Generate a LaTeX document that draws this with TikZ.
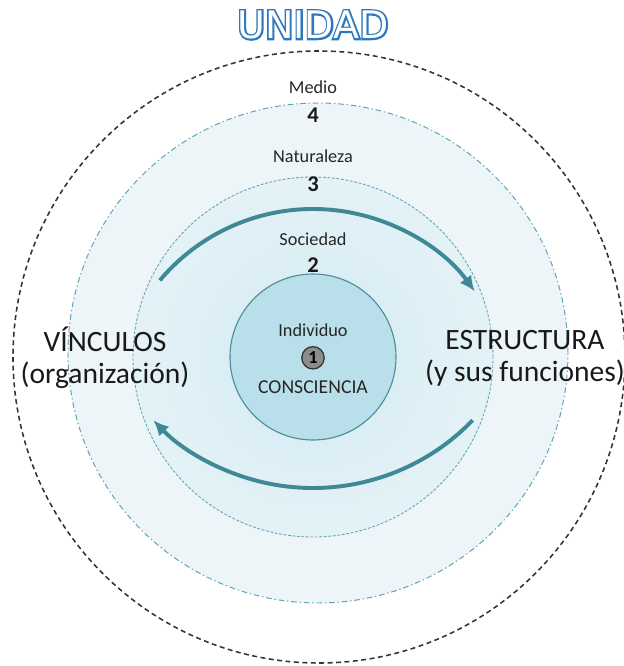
\documentclass[tikz,border=0pt]{standalone}
\usepackage{fontspec}
\setmainfont{Carlito}
\newfontfamily\titlefont{DejaVu Sans}
\newfontfamily\titlethick[FakeBold=9]{DejaVu Sans}
\usetikzlibrary{arrows.meta}
\definecolor{unidadblue}{HTML}{2F78BE}
\definecolor{arrowteal}{HTML}{3F8896}
\definecolor{ringteal}{HTML}{5FA3B2}
\definecolor{medioback}{HTML}{EEF5F9}
\definecolor{socin}{HTML}{D3EAF2}
\definecolor{socout}{HTML}{E4F2F7}
\definecolor{indivback}{HTML}{B9DFEA}
\definecolor{indivline}{HTML}{4D8D9C}

\begin{document}
\begin{tikzpicture}[
  lbl/.style={font=\fontsize{13}{15}\selectfont, text=black!85},
  num/.style={font=\fontsize{16}{18}\selectfont\bfseries, text=black!90},
  side/.style={font=\fontsize{21}{23}\selectfont, align=center, text=black!90},
  flow/.style={line width=2.8pt, draw=arrowteal, -{Latex[length=11pt,width=10pt]}}
]
  \useasboundingbox (-7.825,-7.725) rectangle (7.775,8.925);

  % rings, from the outside in
  \draw[black!80, line width=1.1pt, dash pattern=on 3.5pt off 2.5pt] (0.15,0) circle (7.65);
  \draw[ringteal, fill=medioback, line width=0.7pt, dash pattern=on 4pt off 2pt on 1pt off 2pt] (0.125,0.1) circle (6.25);
  \draw[ringteal, shading=radial, inner color=socin, outer color=socout, line width=0.6pt, dash pattern=on 2pt off 1.2pt] (0,0) circle (4.5);
  \draw[indivline, fill=indivback, line width=0.8pt] (0,0) circle (2.075);

  % arc centres for the two flows
  \coordinate (topc) at (0,-1.3);
  \coordinate (botc) at (0,2.275);
  \draw[flow] ([shift={(140:5)}]topc) arc[start angle=140, end angle=36, radius=5];
  \draw[flow] ([shift={(-44:5.55)}]botc) arc[start angle=-44, end angle=-136, radius=5.55];

  % title: thick blue letters under white ones
  \node[font=\fontsize{27}{30}\selectfont] (unidad) at (0,8.3)
    {\rlap{\titlethick\color{unidadblue}UNIDAD}{\titlefont\color{white}UNIDAD}};

  % ring labels
  \node[lbl] (medio) at (0,6.75) {Medio};
  \node[num] (n4) at (0,6.05) {4};
  \node[lbl] (natur) at (0,5.025) {Naturaleza};
  \node[num] (n3) at (0,4.325) {3};
  \node[lbl] (socie) at (0,2.95) {Sociedad};
  \node[num] (n2) at (0,2.3) {2};
  \node[lbl] (indiv) at (0,0.675) {Individuo};
  \node[circle, draw=black!80, fill=black!45, line width=0.9pt, inner sep=0pt, minimum size=0.56cm,
        font=\fontsize{13}{15}\selectfont\bfseries] (n1) at (0,-0.02) {1};
  \node[lbl, font=\fontsize{14}{16}\selectfont] (consc) at (0,-0.75) {CONSCIENCIA};

  % sides
  \node[side] (vinc) at (-5.2,-0.025) {VÍNCULOS\\(organización)};
  \node[side] (estr) at (5.3,-0.025) {ESTRUCTURA\\(y sus funciones)};
\end{tikzpicture}
\end{document}
